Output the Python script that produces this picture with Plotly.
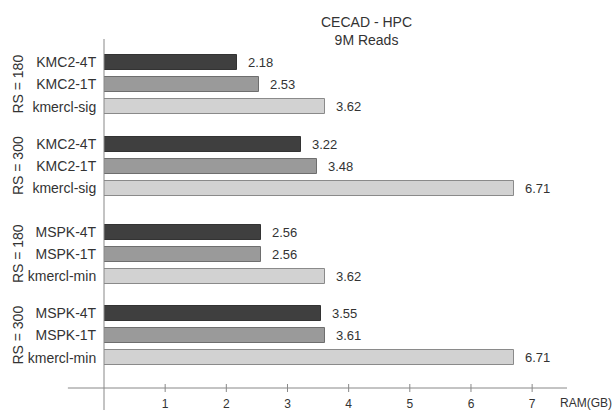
import plotly.graph_objects as go

# ---- data ----
group_labels = ["RS = 180", "RS = 300", "RS = 180", "RS = 300"]
bar_labels = [
    ["KMC2-4T", "KMC2-1T", "kmercl-sig"],
    ["KMC2-4T", "KMC2-1T", "kmercl-sig"],
    ["MSPK-4T", "MSPK-1T", "kmercl-min"],
    ["MSPK-4T", "MSPK-1T", "kmercl-min"],
]
values = [
    [2.18, 2.53, 3.62],
    [3.22, 3.48, 6.71],
    [2.56, 2.56, 3.62],
    [3.55, 3.61, 6.71],
]
x_ticks = [1, 2, 3, 4, 5, 6, 7]
title_lines = ["CECAD - HPC", "9M Reads"]
x_title = "RAM(GB)"

# ---- layout helpers ----
group_offsets = [0, 3.7, 7.7, 11.4]
colors = ["#3f3f3f", "#9a9a9a", "#d2d2d2"]
edge = ["#333333", "#6e6e6e", "#8a8a8a"]
FONT = "Liberation Sans, Arial, sans-serif"

fig = go.Figure()
ys, labels = [], []
for gi, (vals, labs) in enumerate(zip(values, bar_labels)):
    for i in range(3):
        ys.append(group_offsets[gi] + i)
        labels.append(labs[i])

for i in range(3):
    xs = [values[g][i] for g in range(4)]
    yy = [group_offsets[g] + i for g in range(4)]
    fig.add_trace(go.Bar(
        x=xs, y=yy, orientation="h", width=0.68,
        marker=dict(color=colors[i], line=dict(color=edge[i], width=1)),
        showlegend=False, hoverinfo="x",
    ))
    for xv, yv in zip(xs, yy):
        fig.add_annotation(x=xv, y=yv, text=f"{xv:.2f}", showarrow=False,
                           xanchor="left", xshift=9,
                           font=dict(size=13, color="#333333", family=FONT))

# group labels
for gi, gl in enumerate(group_labels):
    fig.add_annotation(x=0, xref="paper", y=group_offsets[gi] + 1, text=gl,
                       textangle=-90, showarrow=False, xanchor="center",
                       xshift=-86, font=dict(size=14, color="#333333", family=FONT))

# axis lines
fig.add_shape(type="line", xref="paper", yref="paper", x0=-0.078, x1=1, y0=0, y1=0,
              line=dict(color="#888888", width=1))
fig.add_shape(type="line", xref="paper", yref="paper", x0=0, x1=0, y0=-0.07, y1=1,
              line=dict(color="#888888", width=1))
for t in x_ticks:
    fig.add_shape(type="line", xref="x", yref="paper", ysizemode="pixel", yanchor=0,
                  x0=t, x1=t, y0=-4, y1=4, line=dict(color="#888888", width=1))

fig.add_annotation(x=0.5, xref="paper", y=1, yref="paper", yshift=8,
                   text="<br>".join(title_lines), showarrow=False,
                   xanchor="center", yanchor="middle", xshift=31,
                   font=dict(size=14, color="#333333", family=FONT))
fig.add_annotation(x=1, xref="paper", y=0, yref="paper", text=x_title, showarrow=False,
                   xanchor="left", yanchor="middle", xshift=-9, yshift=-15,
                   font=dict(size=12, color="#333333", family=FONT))

fig.update_layout(
    width=615, height=410,
    margin=dict(l=104, r=48, t=39, b=22, pad=0),
    paper_bgcolor="white", plot_bgcolor="white",
    bargap=0,
    font=dict(family=FONT, color="#333333"),
    xaxis=dict(range=[0, 7.57], tickvals=x_ticks, ticks="outside", ticklen=5,
               tickcolor="rgba(0,0,0,0)", showgrid=False, zeroline=False,
               showline=False, automargin=False,
               tickfont=dict(size=12, color="#333333")),
    yaxis=dict(range=[14.78, -1.07], tickvals=ys, ticktext=labels, ticks="outside",
               ticklen=4, tickcolor="rgba(0,0,0,0)", showgrid=False, zeroline=False,
               showline=False, automargin=False,
               tickfont=dict(size=14, color="#333333")),
)

fig.write_html("out.html", config={"displayModeBar": False},
               post_script="document.body.style.margin='0';document.body.style.overflow='hidden';")
